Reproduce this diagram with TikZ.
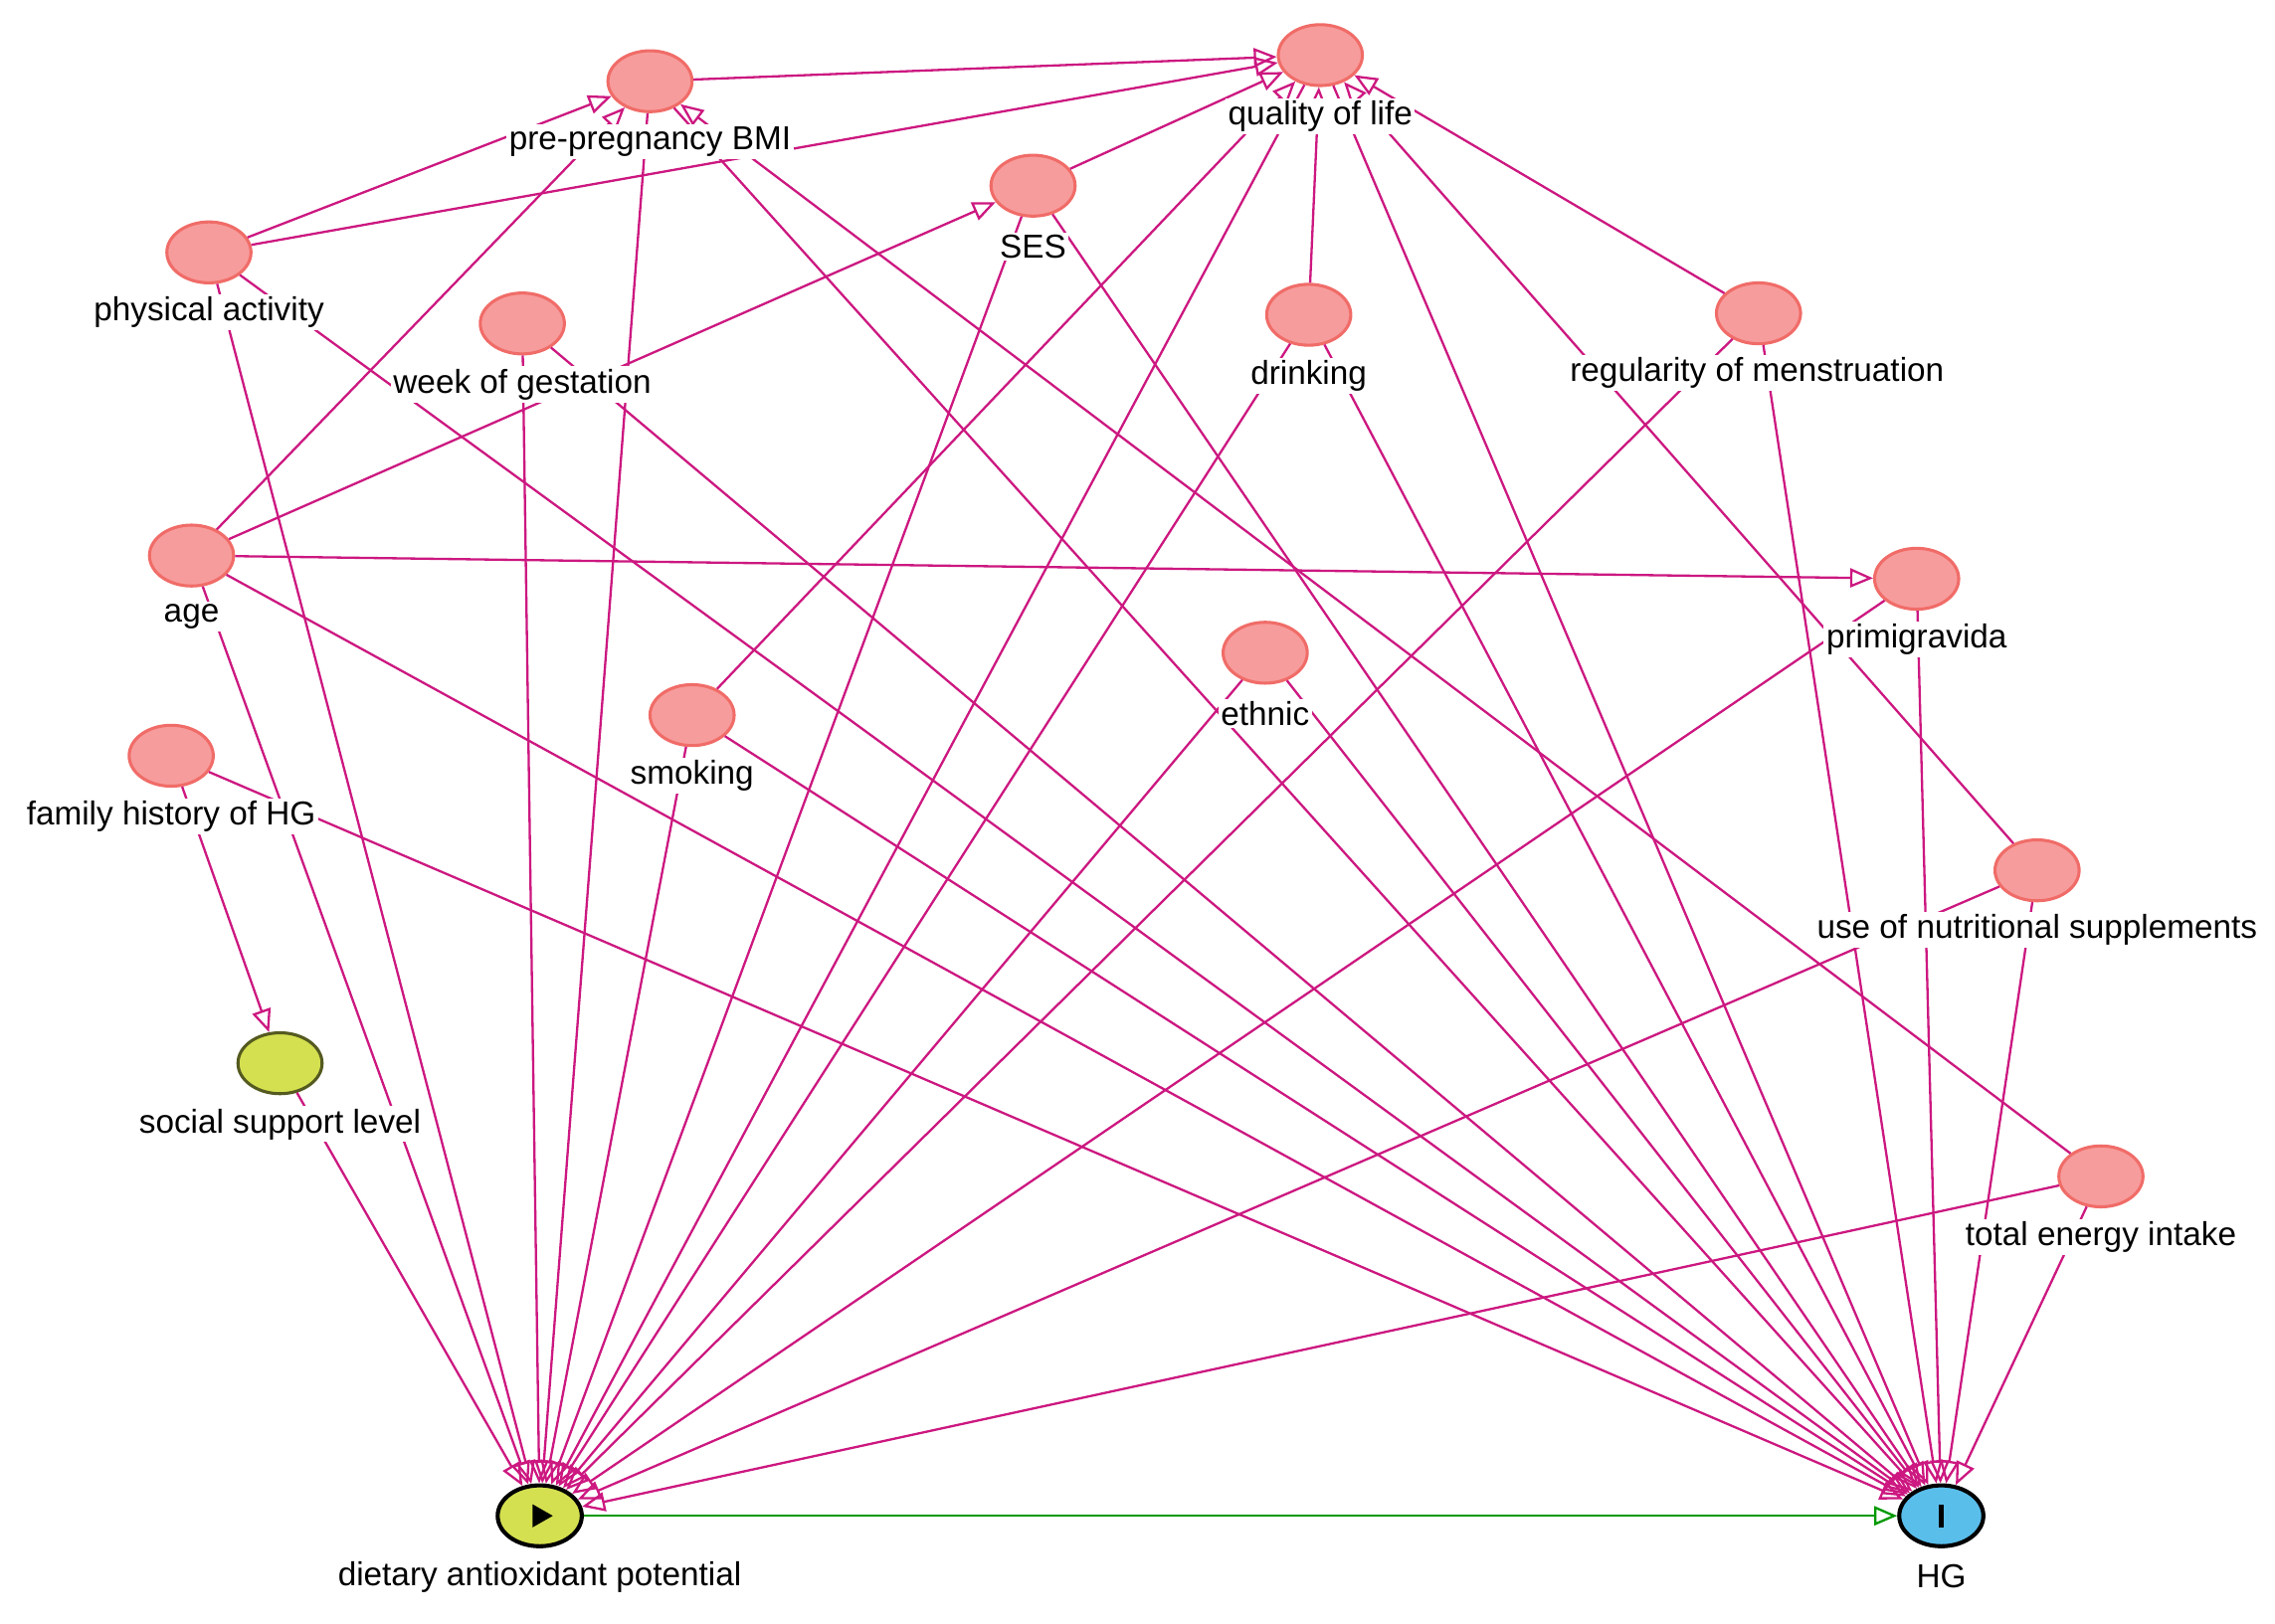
\documentclass[tikz,border=0pt]{standalone}
\usepackage{fontspec}
\setmainfont{Liberation Sans}
\usetikzlibrary{arrows.meta,shapes.geometric}
\definecolor{edge}{RGB}{204,24,128}
\definecolor{nfill}{RGB}{247,156,156}
\definecolor{nline}{RGB}{240,108,104}
\definecolor{yfill}{RGB}{212,224,80}
\definecolor{bfill}{RGB}{90,190,235}
\begin{document}
\begin{tikzpicture}[x=0.02cm,y=-0.02cm,
  var/.style={ellipse,draw=nline,fill=nfill,line width=1.2pt,minimum width=1.16cm,minimum height=0.84cm,inner sep=0pt},
  yvar/.style={var,draw=black!60!yfill,fill=yfill},
  lab/.style={fill=white,inner sep=1pt,font=\fontsize{13}{15}\selectfont},
  e/.style={draw=edge,line width=0.9pt,-{Triangle[open,length=9pt,width=7.5pt]}},
  g/.style={draw=green!60!black,line width=0.9pt,-{Triangle[open,length=9pt,width=7.5pt]}}]
\useasboundingbox (0,0) rectangle (1568,1119);
\node[var] (qol) at (910,38) {};
\node[var] (bmi) at (448,56) {};
\node[var] (ses) at (712,128) {};
\node[var] (pa) at (144,174) {};
\node[var] (week) at (360,223) {};
\node[var] (drink) at (902,217) {};
\node[var] (reg) at (1212,216) {};
\node[var] (age) at (132,383) {};
\node[var] (prim) at (1321,399) {};
\node[var] (eth) at (872,450) {};
\node[var] (smoke) at (477,493) {};
\node[var] (fam) at (118,521) {};
\node[var] (supp) at (1404,600) {};
\node[yvar] (soc) at (193,733) {};
\node[var] (energy) at (1448,811) {};
\node[yvar,line width=1.6pt,draw=black] (diet) at (372,1045) {};
\node[var,draw=black,fill=bfill,line width=1.6pt] (hg) at (1338,1045) {};
\fill (367,1037) -- (381,1045) -- (367,1053) -- cycle;
\fill (1336,1037) rectangle (1340,1053);
\foreach \s in {bmi,pa,ses,drink,reg,smoke,supp} \draw[e] (\s) -- (qol);
\foreach \s in {pa,age,energy} \draw[e] (\s) -- (bmi);
\draw[e] (age) -- (ses);
\draw[e] (age) -- (prim);
\draw[e] (fam) -- (soc);
\foreach \s in {pa,week,bmi,age,ses,qol,smoke,drink,reg,prim,supp,energy,soc,eth} \draw[e] (\s) -- (diet);
\foreach \s in {pa,week,bmi,age,ses,qol,smoke,drink,reg,prim,eth,supp,energy,fam} \draw[e] (\s) -- (hg);
\draw[g] (diet) -- (hg);
\node[lab] (qolL) at (910,80) {quality of life};
\node[lab] (bmiL) at (448,98) {pre-pregnancy BMI};
\node[lab] (sesL) at (712,170) {SES};
\node[lab] (paL) at (144,215) {physical activity};
\node[lab] (weekL) at (360,265) {week of gestation};
\node[lab] (drinkL) at (902,259) {drinking};
\node[lab] (regL) at (1211,257) {regularity of menstruation};
\node[lab] (ageL) at (132,425) {age};
\node[lab] (primL) at (1321,441) {primigravida};
\node[lab] (ethL) at (872,492) {ethnic};
\node[lab] (smokeL) at (477,535) {smoking};
\node[lab] (famL) at (118,563) {family history of HG};
\node[lab] (suppL) at (1404,641) {use of nutritional supplements};
\node[lab] (socL) at (193,775) {social support level};
\node[lab] (energyL) at (1448,853) {total energy intake};
\node[lab] (dietL) at (372,1087) {dietary antioxidant potential};
\node[lab] (hgL) at (1338,1087) {HG};
\end{tikzpicture}
\end{document}
